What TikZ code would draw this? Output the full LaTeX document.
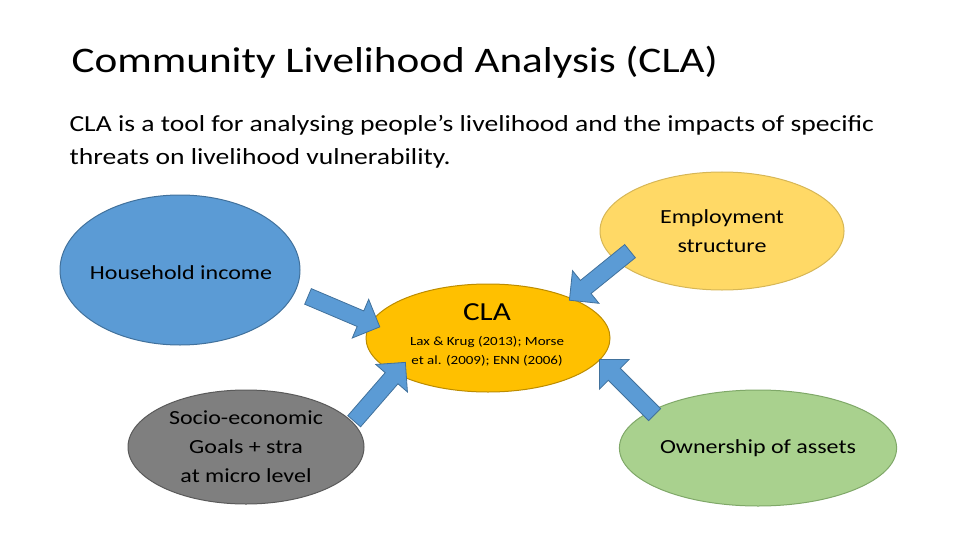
\documentclass[tikz,border=0pt]{standalone}
\usepackage{fontspec}
\setmainfont{Carlito}[FakeStretch=1.2]
\usetikzlibrary{shapes.geometric,shapes.arrows}
\definecolor{bl}{HTML}{5B9BD5}\definecolor{bld}{HTML}{41719C}
\definecolor{orf}{HTML}{FFC000}\definecolor{ord}{HTML}{BC8C00}
\definecolor{ye}{HTML}{FFD966}\definecolor{yed}{HTML}{D6B656}
\definecolor{gr}{HTML}{7F7F7F}\definecolor{grd}{HTML}{5A5A5A}
\definecolor{gn}{HTML}{A9D18E}\definecolor{gnd}{HTML}{7FA868}
\begin{document}
\begin{tikzpicture}[x=1pt,y=-1pt,
  ell/.style={ellipse,draw,line width=1pt,inner sep=0pt,font=\fontsize{20}{29}\selectfont,align=center},
  barrow/.style={single arrow,fill=bl,draw=bld,line width=0.8pt,minimum height=78pt,minimum width=42pt,single arrow head extend=8pt,inner sep=5pt}]
\useasboundingbox (0,0) rectangle (960,540);
\node[anchor=west,font=\fontsize{36}{40}\selectfont] (title) at (68,62) {Community Livelihood Analysis (CLA)};
\node[anchor=north west,align=left,font=\fontsize{23}{33}\selectfont] (body) at (66,112) {CLA is a tool for analysing people’s livelihood and the impacts of specific\\threats on livelihood vulnerability.};
\node[ell,fill=bl,draw=bld,minimum width=240pt,minimum height=150pt] (hh) at (180,270) {};
\node[font=\fontsize{20}{24}\selectfont] (hht) at (181,273) {Household income};
\node[ell,fill=ye,draw=yed,minimum width=244pt,minimum height=118pt] (emp) at (722,231) {Employment\\structure};
\node[ell,fill=gr,draw=grd,minimum width=236pt,minimum height=114pt] (soc) at (246,447) {Socio-economic\\Goals + stra\\at micro level};
\node[ell,fill=gn,draw=gnd,minimum width=244pt,minimum height=116pt] (own) at (758,448) {Ownership of assets};
\node[ell,fill=orf,draw=ord,minimum width=244pt,minimum height=108pt] (cla) at (488,338) {};
\node[font=\fontsize{26}{30}\selectfont] (clat) at (487,312) {CLA};
\node[font=\fontsize{12.5}{19}\selectfont,align=center] (ref) at (487,351) {Lax \& Krug (2013); Morse\\et al. (2009); ENN (2006)};
\node[barrow,rotate=-23] (a1) at (340,310) {};
\node[barrow,rotate=219] (a2) at (603,273) {};
\node[barrow,rotate=49] (a3) at (377,395) {};
\node[barrow,rotate=135] (a4) at (630,390) {};
\end{tikzpicture}
\end{document}
